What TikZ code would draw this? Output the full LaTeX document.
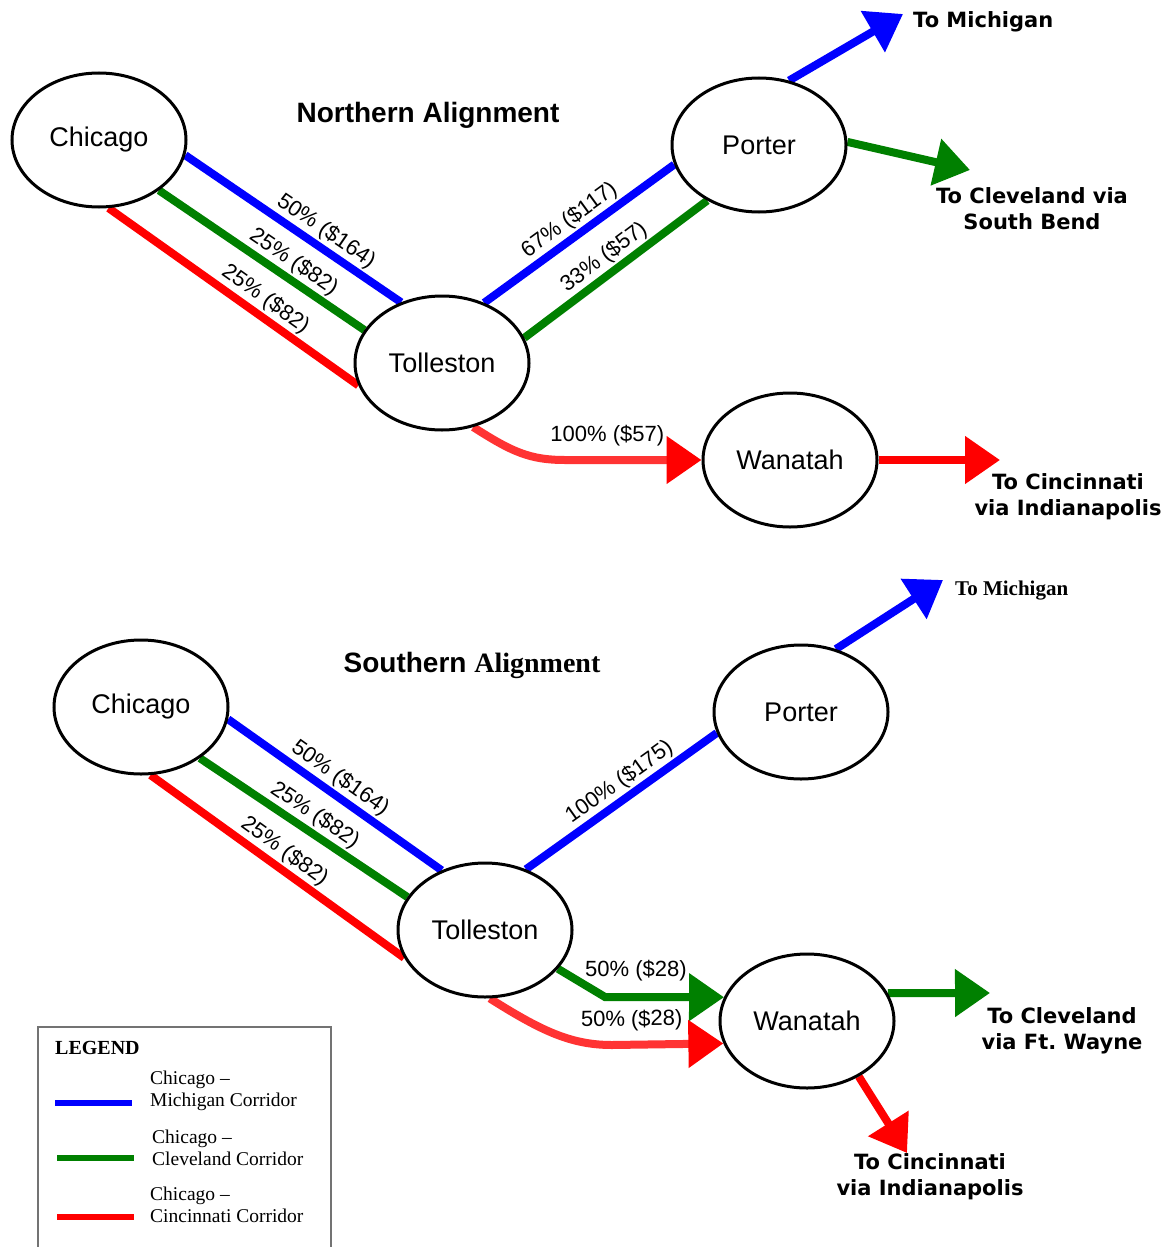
\documentclass[tikz,border=0pt]{standalone}
\usepackage{fontspec}
\usepackage{xcolor}
\usepackage{tikz}
\setmainfont{Liberation Serif}
\setsansfont{Liberation Sans}
\newfontfamily\destfont{DejaVu Sans}
\usetikzlibrary{shapes.geometric}
\usetikzlibrary{arrows.meta}
\usetikzlibrary{backgrounds}
\definecolor{michblue}{RGB}{0,0,255}
\definecolor{clevgreen}{RGB}{0,128,0}
\definecolor{cincred}{RGB}{255,0,0}
\definecolor{cinclight}{RGB}{255,51,51}
\tikzstyle{town} = [draw=black, fill=white, line width=3pt, ellipse,
minimum width=174pt, minimum height=134pt, inner sep=0pt,
font=\sffamily\fontsize{27}{32}\selectfont]
\tikzstyle{route} = [line width=8pt]
\tikzstyle{onward} = [route, -{Triangle[length=35pt,width=46pt]}]
\tikzstyle{share} = [sloped, above, inner sep=2pt, text=black, font=\sffamily\fontsize{22}{26}\selectfont]
\tikzstyle{dest} = [align=center, inner sep=0pt, font=\destfont\bfseries\fontsize{21}{26}\selectfont]
\tikzstyle{heading} = [font=\sffamily\bfseries\fontsize{28}{34}\selectfont]
\tikzstyle{legtext} = [anchor=west, align=left, inner sep=0pt, font=\rmfamily\fontsize{19.5}{22}\selectfont]

\begin{document}
\begin{tikzpicture}[x=1pt, y=-1pt]
    \useasboundingbox (0,0) rectangle (1162,1247);

    % northern alignment
    \node[heading] (titleN) at (428,115) {Northern Alignment};
    \node[town] (chiN) at (99,140) {Chicago};
    \node[town] (tolN) at (442,363) {Tolleston};
    \node[town] (porN) at (759,145) {Porter};
    \node[town] (wanN) at (790,460) {Wanatah};
    \coordinate (michN) at (903,14);
    \coordinate (clevN) at (970,170);
    \coordinate (cincN) at (1000,460);
    \node[dest, anchor=west] (michNtxt) at (913,22) {To Michigan};
    \node[dest] (clevNtxt) at (1032,209) {To Cleveland via\\South Bend};
    \node[dest] (cincNtxt) at (1068,497) {To Cincinnati\\via Indianapolis};

    \begin{scope}[on background layer]
        \draw[route, michblue] (chiN.-10) -- node[share, pos=0.61] {50\% (\$164)} (tolN.124);
        \draw[route, clevgreen] (chiN.-40) -- node[share, pos=0.61] {25\% (\$82)} (tolN.157);
        \draw[route, cincred] (chiN.-82) -- node[share, pos=0.59] {25\% (\$82)} (tolN.195);
        \draw[route, michblue] (tolN.55) -- node[share, pos=0.5] {67\% (\$117)} (porN.193);
        \draw[route, clevgreen] (tolN.17) -- node[share, pos=0.49] {33\% (\$57)} (porN.227);
        \draw[onward, cinclight, -{Triangle[length=35pt,width=46pt,color=cincred]}]
            (tolN.-64) .. controls (512,452) and (530,460) .. (565,460)
            -- node[share, pos=0.31, above=8pt] {100\% (\$57)} (wanN.west);
        \draw[onward, michblue] (porN.65) -- (michN);
        \draw[onward, clevgreen] (porN.2) -- (clevN);
        \draw[onward, cincred] (wanN.east) -- (cincN);
    \end{scope}

    % southern alignment
    \node[heading] (titleS) at (472,665) {Southern \textrm{Alignment}};
    \node[town] (chiS) at (141,707) {Chicago};
    \node[town] (tolS) at (485,930) {Tolleston};
    \node[town] (porS) at (801,712) {Porter};
    \node[town] (wanS) at (807,1021) {Wanatah};
    \coordinate (michS) at (943,580);
    \coordinate (clevS) at (990,993);
    \coordinate (cincS) at (907,1153);
    \node[dest, anchor=west, font=\rmfamily\bfseries\fontsize{21}{26}\selectfont] (michStxt) at (955,591) {To Michigan};
    \node[dest] (clevStxt) at (1062,1031) {To Cleveland\\via Ft.\ Wayne};
    \node[dest] (cincStxt) at (930,1177) {To Cincinnati\\via Indianapolis};

    \begin{scope}[on background layer]
        \draw[route, michblue] (chiS.-8) -- node[share, pos=0.48] {50\% (\$164)} (tolS.126);
        \draw[route, clevgreen] (chiS.-41) -- node[share, pos=0.51] {25\% (\$82)} (tolS.157);
        \draw[route, cincred] (chiS.-82) -- node[share, pos=0.49] {25\% (\$82)} (tolS.199);
        \draw[route, michblue] (tolS.56) -- node[share, pos=0.54] {100\% (\$175)} (porS.194);
        \draw[onward, clevgreen] (tolS.-28) -- (605,997)
            -- node[share, pos=0.26, above=10pt] {50\% (\$28)} (wanS.164);
        \draw[onward, cinclight, -{Triangle[length=35pt,width=46pt,color=cincred]}]
            (tolS.-86) .. controls (540,1030) and (570,1045) .. (612,1045)
            -- node[share, pos=0.18, above=8pt] {50\% (\$28)} (wanS.195);
        \draw[onward, michblue] (porS.61) -- (michS);
        \draw[onward, clevgreen] (wanS.19) -- (clevS);
        \draw[onward, cincred] (wanS.-47) -- (cincS);
    \end{scope}

    % legend
    \draw[black!55, line width=1.2pt] (38,1250) |- (331,1027) -- (331,1250);
    \node[anchor=west, inner sep=0pt, font=\rmfamily\bfseries\fontsize{20}{24}\selectfont] (legend) at (55,1048) {LEGEND};
    \draw[michblue, line width=6pt] (55,1103) -- (132,1103);
    \node[legtext] (legmich) at (150,1091) {Chicago --\\Michigan Corridor};
    \draw[clevgreen, line width=6pt] (57,1158) -- (134,1158);
    \node[legtext] (legclev) at (152,1148) {Chicago --\\Cleveland Corridor};
    \draw[cincred, line width=6pt] (57,1217) -- (134,1217);
    \node[legtext] (legcinc) at (150,1205) {Chicago --\\Cincinnati Corridor};
\end{tikzpicture}
\end{document}
